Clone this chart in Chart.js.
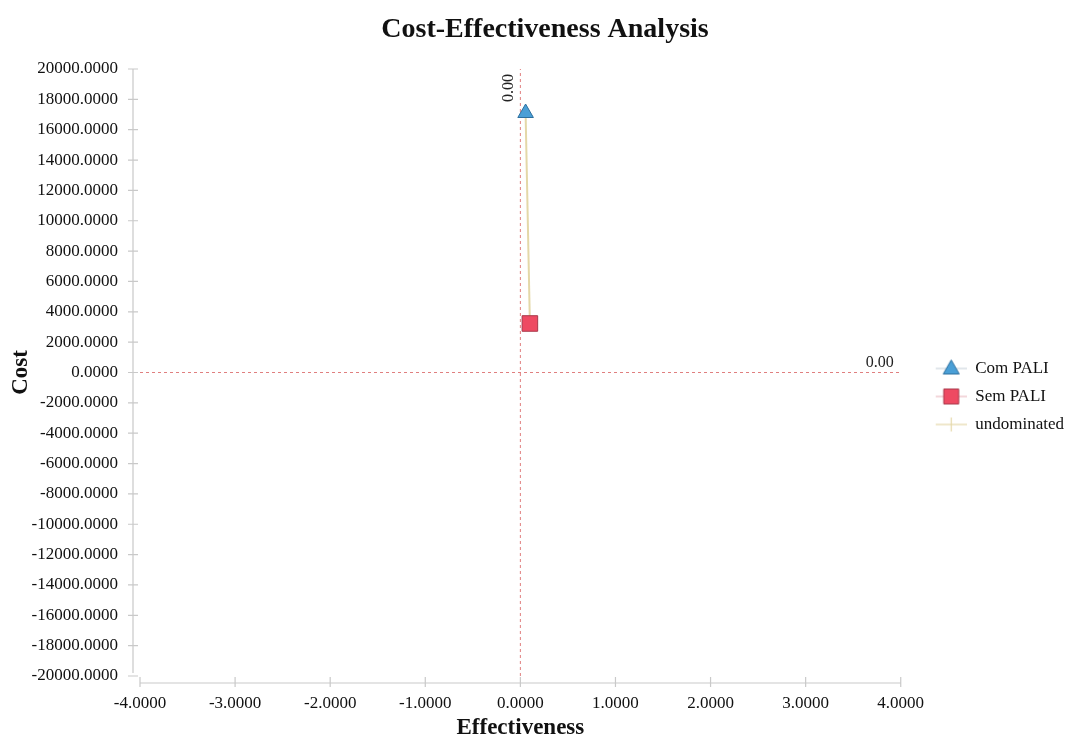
<!DOCTYPE html>
<html>
<head>
<meta charset="utf-8">
<title>Cost-Effectiveness Analysis</title>
<script src="https://cdn.jsdelivr.net/npm/chart.js@4.4.1/dist/chart.umd.min.js"></script>
<style>
  html, body { margin: 0; padding: 0; background: #ffffff; }
  #wrap { width: 1074px; height: 738px; position: relative; }
</style>
</head>
<body>
<div id="wrap"><canvas id="cea"></canvas></div>
<script>
// Strategies and their (effectiveness, cost) results
const strategies = ['Com PALI', 'Sem PALI'];
const effectiveness = [0.055, 0.10];
const cost = [17100, 3230];
const frontierLabel = 'undominated';

// Axis ranges and tick spacing
const xRange = [-4, 4];
const xStep = 1;
const yRange = [-20000, 20000];
const yStep = 2000;

// Reference (origin) lines and their labels
const refEffectiveness = 0;
const refCost = 0;
const refLabel = '0.00';

const SERIF = "'Liberation Serif', 'DejaVu Serif', serif";
const AXIS_GREY = '#c9c9c9';
const REF_RED = '#e07f7f';

const markerStyles = [
  { shape: 'triangle', fill: '#4a9fd6', stroke: '#2d6f9e', radius: 9, legendLine: '#cdd6de' },
  { shape: 'rect', fill: '#ee4a62', stroke: '#a8384a', radius: 11, legendLine: '#ecbcc3' }
];
const frontierColor = '#e4d8a8';

// Small legend icons: a short line with the marker on top
function legendIcon(kind) {
  const c = document.createElement('canvas');
  c.width = 55; c.height = 20;
  const g = c.getContext('2d');
  const cx = 39.5, cy = 10;
  if (kind === 'frontier') {
    g.strokeStyle = frontierColor; g.lineWidth = 1.2;
    g.beginPath(); g.moveTo(24, cy); g.lineTo(55, cy); g.stroke();
    g.beginPath(); g.moveTo(cx, cy - 7); g.lineTo(cx, cy + 7); g.stroke();
    return c;
  }
  const st = markerStyles[kind];
  g.strokeStyle = st.legendLine; g.lineWidth = 1.2;
  g.beginPath(); g.moveTo(24, cy); g.lineTo(55, cy); g.stroke();
  g.fillStyle = st.fill; g.strokeStyle = st.stroke; g.lineWidth = 1;
  g.beginPath();
  if (st.shape === 'triangle') {
    g.moveTo(cx, cy - 8.5); g.lineTo(cx + 8, cy + 5.5); g.lineTo(cx - 8, cy + 5.5); g.closePath();
  } else {
    g.rect(cx - 7.5, cy - 7.5, 15, 15);
  }
  g.fill(); g.stroke();
  return c;
}
const legendIcons = [legendIcon(0), legendIcon(1), legendIcon('frontier')];

const pointData = strategies.map((_, i) => [{ x: effectiveness[i], y: cost[i] }]);

const datasets = [
  ...strategies.map((name, i) => ({
    label: name,
    data: pointData[i],
    pointStyle: markerStyles[i].shape,
    pointRadius: markerStyles[i].radius,
    pointHoverRadius: markerStyles[i].radius,
    backgroundColor: markerStyles[i].fill,
    borderColor: markerStyles[i].stroke,
    borderWidth: 1,
    order: 0
  })),
  {
    label: frontierLabel,
    data: strategies.map((_, i) => ({ x: effectiveness[i], y: cost[i] })),
    showLine: true,
    borderColor: frontierColor,
    borderWidth: 2,
    pointRadius: 0,
    order: 1
  },
  {
    label: 'ref-x',
    data: [{ x: refEffectiveness, y: yRange[0] }, { x: refEffectiveness, y: yRange[1] }],
    showLine: true, borderColor: REF_RED, borderWidth: 1, borderDash: [3, 3],
    pointRadius: 0, order: 2
  },
  {
    label: 'ref-y',
    data: [{ x: xRange[0], y: refCost }, { x: xRange[1], y: refCost }],
    showLine: true, borderColor: REF_RED, borderWidth: 1, borderDash: [3, 3],
    pointRadius: 0, order: 2
  }
];

// Offset axis lines with cross-shaped tick marks, plus origin-line labels
const axesPlugin = {
  id: 'offsetAxes',
  beforeDatasetsDraw(chart) {
    const { ctx, chartArea, scales: { x, y } } = chart;
    ctx.save();
    ctx.strokeStyle = AXIS_GREY;
    ctx.lineWidth = 1.2;
    const ax = chartArea.left - 7;
    const ay = chartArea.bottom + 7;
    ctx.beginPath();
    ctx.moveTo(ax, chartArea.top); ctx.lineTo(ax, chartArea.bottom - 3);
    ctx.moveTo(chartArea.left, ay); ctx.lineTo(chartArea.right, ay);
    y.ticks.forEach(t => {
      const py = y.getPixelForValue(t.value);
      ctx.moveTo(ax - 5, py); ctx.lineTo(ax + 5, py);
    });
    x.ticks.forEach(t => {
      const px = x.getPixelForValue(t.value);
      ctx.moveTo(px, ay - 6); ctx.lineTo(px, ay + 4);
    });
    ctx.stroke();
    ctx.restore();
  },
  afterDraw(chart) {
    const { ctx, scales: { x, y } } = chart;
    ctx.save();
    ctx.fillStyle = '#222';
    ctx.font = '16px ' + SERIF;
    ctx.textAlign = 'center';
    ctx.textBaseline = 'middle';
    // label along the vertical origin line
    ctx.save();
    ctx.translate(x.getPixelForValue(refEffectiveness) - 12, y.getPixelForValue(yRange[1]) + 19);
    ctx.rotate(-Math.PI / 2);
    ctx.fillText(refLabel, 0, 0);
    ctx.restore();
    // label at the right end of the horizontal origin line
    ctx.fillText(refLabel, x.getPixelForValue(xRange[1]) - 21, y.getPixelForValue(refCost) - 10);
    ctx.restore();
  }
};

new Chart(document.getElementById('cea'), {
  type: 'scatter',
  data: { datasets },
  plugins: [axesPlugin],
  options: {
    responsive: true,
    maintainAspectRatio: false,
    animation: false,
    layout: { padding: { left: 16, right: 0, top: 0, bottom: 17 } },
    plugins: {
      tooltip: { enabled: false },
      title: {
        display: true,
        text: 'Cost-Effectiveness Analysis',
        color: '#111',
        font: { family: SERIF, size: 28, weight: 'bold', lineHeight: 1.2 },
        padding: { top: 13, bottom: 22.4 }
      },
      legend: {
        display: true,
        position: 'right',
        align: 'center',
        title: {
          display: true,
          text: '',
          font: { size: 10, lineHeight: 1.2 },
          padding: { top: 60, bottom: 0 }
        },
        labels: {
          usePointStyle: true,
          pointStyleWidth: 55,
          padding: 11,
          color: '#111',
          font: { family: SERIF, size: 17 },
          generateLabels: (chart) => chart.data.datasets.slice(0, 3).map((ds, i) => ({
            text: ds.label,
            pointStyle: legendIcons[i],
            fillStyle: 'transparent',
            strokeStyle: 'transparent',
            lineWidth: 0,
            hidden: false,
            fontColor: '#111',
            datasetIndex: i
          }))
        }
      }
    },
    scales: {
      x: {
        type: 'linear',
        min: xRange[0], max: xRange[1],
        grid: { display: false },
        border: { display: false },
        ticks: {
          stepSize: xStep,
          autoSkip: false,
          maxRotation: 0,
          padding: 9,
          color: '#111',
          font: { family: SERIF, size: 17 },
          callback: v => Number(v).toFixed(4)
        },
        title: {
          display: true,
          text: 'Effectiveness',
          color: '#111',
          font: { family: SERIF, size: 23, weight: 'bold', lineHeight: 1.2 },
          padding: { top: 0, bottom: -21 }
        },
        afterFit: s => { s.height = 45; }
      },
      y: {
        type: 'linear',
        min: yRange[0], max: yRange[1],
        grid: { display: false },
        border: { display: false },
        ticks: {
          stepSize: yStep,
          autoSkip: false,
          padding: 14,
          color: '#111',
          font: { family: SERIF, size: 17 },
          callback: v => Number(v).toFixed(4)
        },
        title: {
          display: true,
          text: 'Cost',
          color: '#111',
          font: { family: SERIF, size: 23, weight: 'bold', lineHeight: 1.2 },
          padding: { top: -9, bottom: 0 }
        },
        afterFit: s => { s.width = 124; }
      }
    }
  }
});
</script>
</body>
</html>
